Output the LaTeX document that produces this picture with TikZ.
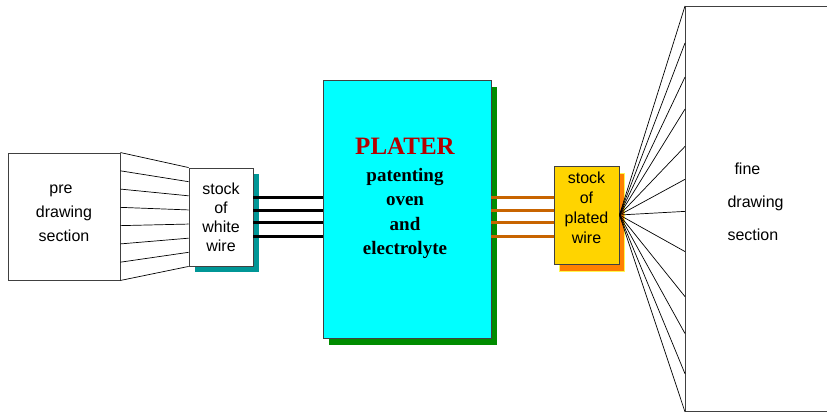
\documentclass[tikz,border=0pt]{standalone}
\usepackage{fontspec}
\setmainfont{Liberation Sans}
\newfontfamily\platerfont{Liberation Serif}
\usetikzlibrary{shadows, calc}
\definecolor{shadowteal}{RGB}{0,150,150}
\definecolor{platercyan}{RGB}{0,255,255}
\definecolor{shadowgreen}{RGB}{0,140,0}
\definecolor{wirebrown}{RGB}{200,100,0}
\definecolor{platedgold}{RGB}{255,212,0}
\definecolor{shadoworange}{RGB}{255,128,0}
\definecolor{platerred}{RGB}{180,0,0}

\tikzset{
  box/.style={draw=black!75, line width=0.9pt, inner sep=0pt, align=center,
              font=\fontsize{16}{19}\selectfont},
  fan/.style={line width=0.7pt},
  wire/.style={line width=3pt},
}

\begin{document}
\begin{tikzpicture}[x=1pt, y=-1pt]
  \useasboundingbox (0,0) rectangle (827,414);
  \clip (0,0) rectangle (827,414);
  % sections and stocks
  \node[box, minimum width=112pt, minimum height=127pt,
        font=\fontsize{16}{24}\selectfont] (pre) at (64,216.5) {pre\hspace*{6pt}\\drawing\\section\hspace*{6pt}\\[-18pt]};
  \node[box, fill=white, minimum width=64pt, minimum height=98pt,
        general shadow={fill=shadowteal, shadow xshift=6pt, shadow yshift=-6pt}]
        (white) at (221,217) {stock\\of\\white\\wire};
  \node[box, fill=platercyan, minimum width=168pt, minimum height=258pt,
        general shadow={fill=shadowgreen, shadow xshift=6pt, shadow yshift=-7pt}]
        (plater) at (407,209) {};
  \node[font=\platerfont\bfseries\fontsize{25}{25}\selectfont, text=platerred]
        (platertitle) at (405,146) {PLATER};
  \node[font=\platerfont\bfseries\fontsize{19}{24.5}\selectfont, align=center]
        (platertext) at (405,213.5) {patenting\\oven\\and\\electrolyte};
  \node[box, fill=platedgold, minimum width=65pt, minimum height=98pt,
        font=\fontsize{16}{20}\selectfont,
        general shadow={fill=shadoworange, draw=yellow!70!white, shadow xshift=5pt, shadow yshift=-7pt}]
        (plated) at (586.5,215) {stock\\of\\plated\\wire\\[-6pt]};
  \node[box, minimum width=160pt, minimum height=405pt, anchor=north west]
        (fine) at (685,6) {};
  \node[font=\fontsize{16}{33}\selectfont, align=left, anchor=west]
        (finetext) at (724,202) {\hspace*{7pt}fine\\drawing\\section};
  % fans of wire
  \foreach \i in {0,...,7}
    \draw[fan] ($(pre.north east)!\i/7!(pre.south east)$) -- ($(white.north west)!\i/7!(white.south west)$);
  \coordinate (hub) at (plated.east);
  \foreach \f in {0,.091,.175,.254,.346,.427,.506,.605,.716,.807,.906,1}
    \draw[fan] (hub) -- ($(fine.north west)!\f!(fine.south west)$);
  % wires through the plater
  \foreach \y in {198,211,223,236}{
    \draw[wire] (white.east |- 0,\y) -- (plater.west |- 0,\y);
    \draw[wire, wirebrown] (plater.east |- 0,\y) -- (plated.west |- 0,\y);
  }
\end{tikzpicture}
\end{document}
